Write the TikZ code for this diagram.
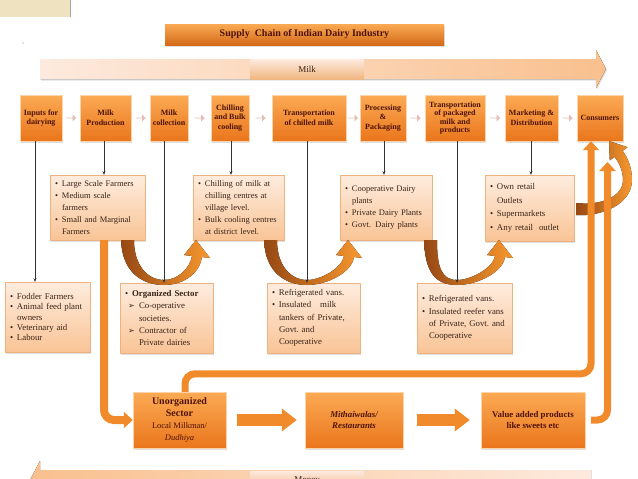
\documentclass[tikz,border=0pt]{standalone}
\usepackage{fontspec}
\setmainfont{Liberation Serif}
\newfontfamily\symfont{DejaVu Sans}
\definecolor{dorange}{RGB}{234,118,28}
\definecolor{lorange}{RGB}{251,170,84}
\definecolor{dmaroon}{RGB}{78,18,8}
\definecolor{peachtop}{RGB}{254,236,222}
\definecolor{peachbot}{RGB}{249,196,150}
\definecolor{peachedge}{RGB}{238,178,128}
\definecolor{brownarc}{RGB}{150,72,20}
\definecolor{orangearc}{RGB}{248,152,46}
\definecolor{fatorange}{RGB}{240,138,42}
\definecolor{chevgray}{RGB}{228,190,182}
\definecolor{milklight}{RGB}{253,234,222}
\definecolor{milkdark}{RGB}{249,192,142}
\definecolor{textdark}{RGB}{56,34,22}
\definecolor{tanbox}{RGB}{238,226,192}
\usepackage{tikz}
\usetikzlibrary{arrows.meta,positioning,shapes.arrows,shadows,calc}
\newcommand{\bul}{\makebox[7pt][l]{\textbullet}}
\newcommand{\ind}{\hspace*{7pt}}
\newcommand{\chevr}{\makebox[11pt][l]{\symfont\fontsize{8}{8}\selectfont ➢}}
% U-shaped ribbon arrow: tail x, bottom x, tip x
\newcommand{\ucurve}[3]{%
  \fill[left color=brownarc,right color=orangearc]
    (#1,240) .. controls ({#1+1},272) and ({#2-22},285) .. (#2,285)
    .. controls ({#2+21},285) and ({#3+5},272) .. ({#3+7},257)
    -- ({#3+15},258) -- ({#3+1},240) -- ({#3-11},255) -- ({#3-3},256)
    .. controls ({#3-5},268) and ({#2+14},280) .. (#2,280)
    .. controls ({#2-16},280) and ({#1+13},266) .. ({#1+13},240) -- cycle;}
\begin{document}
\begin{tikzpicture}[x=1pt,y=-1pt,
  shade/.style={drop shadow={opacity=0.25,shadow xshift=1pt,shadow yshift=-1.5pt}},
  topbox/.style={draw=lorange!50!white,top color=lorange,bottom color=dorange,minimum height=46pt,inner sep=1pt,align=center,font=\fontsize{8}{9.5}\selectfont\bfseries,text=dmaroon,shade},
  botbox/.style={topbox,minimum height=56pt},
  infobox/.style={draw=peachedge,top color=peachtop,bottom color=peachbot,inner xsep=5pt,inner ysep=2pt,align=left,font=\fontsize{8.5}{12}\selectfont,text=textdark,shade},
  lowbox/.style={infobox,minimum height=70pt,font=\fontsize{8.8}{12.2}\selectfont},
  titlebar/.style={top color=lorange,bottom color=dorange!90!black,minimum width=279pt,minimum height=21pt,font=\fontsize{10}{12}\selectfont\bfseries,text=dmaroon,shade},
  bandlabel/.style={top color=milklight,bottom color=milkdark!85!brown,minimum width=114pt,minimum height=20pt,inner sep=0pt,font=\fontsize{9}{10}\selectfont,text=textdark},
  chev/.style={single arrow,fill=chevgray,minimum height=10pt,minimum width=7pt,single arrow head extend=1.5pt,inner sep=0pt},
  conn/.style={draw=black!80,line width=0.6pt,-{Stealth[length=3.5pt,width=3pt]}},
  fat/.style={draw=fatorange,line width=8pt,rounded corners=10pt,-{Triangle[width=16pt,length=9pt]}},
  fatter/.style={draw=fatorange,line width=12pt,-{Triangle[width=22pt,length=15pt]}}]
  \useasboundingbox (0,0) rectangle (638,479);
  % corner tab and title
  \fill[tanbox] (0,0) rectangle (70,17);
  \draw[black!35,line width=1pt] (70,0) -- (70,17);
  \fill[black!45] (23,43) circle (0.6);
  \node[titlebar] (title) at (304.5,34.5) {Supply\ \ Chain of Indian Dairy Industry};
  % Milk band
  \fill[left color=milklight,right color=milkdark,shade] (40,59) -- (596,59) -- (596,50) -- (606,69) -- (596,88) -- (596,79) -- (40,79) -- cycle;
  \node[bandlabel] (milk) at (307,69) {Milk};
  % Money band
  \fill[left color=milkdark,right color=milklight] (591,470) -- (40,470) -- (40,461) -- (30,480) -- (40,499) -- (40,490) -- (591,490) -- cycle;
  \node[bandlabel] (money) at (307,481) {Money};
  % Stages
  \node[topbox,minimum width=42pt] (inp) at (41,118) {Inputs for\\dairying};
  \node[topbox,minimum width=51pt] (prod) at (105.5,118) {Milk\\Production};
  \node[topbox,minimum width=38pt] (coll) at (169,118) {Milk\\collection};
  \node[topbox,minimum width=38pt] (chill) at (230,118) {Chilling\\and Bulk\\cooling};
  \node[topbox,minimum width=74pt] (trch) at (309,118) {Transportation\\of chilled milk};
  \node[topbox,minimum width=46pt] (proc) at (383,118) {Processing\\\&\\Packaging};
  \node[topbox,minimum width=60pt,font=\fontsize{8}{8.3}\selectfont\bfseries] (trpk) at (455,118) {Transportation\\of packaged\\milk and\\products};
  \node[topbox,minimum width=53pt] (mkt) at (531.5,118) {Marketing \&\\Distribution};
  \node[topbox,minimum width=46pt] (cons) at (600,118) {Consumers};
  \foreach \a/\b in {inp/prod,prod/coll,coll/chill,chill/trch,trch/proc,proc/trpk,trpk/mkt,mkt/cons}
    \node[chev] (chev-\a) at ($(\a.east)!0.5!(\b.west)$) {};
  % Details
  \node[infobox,text width=85pt,minimum height=65pt] (farm) at (97.5,207.5) {\bul Large Scale Farmers\\\bul Medium scale\\\ind farmers\\\bul Small and Marginal\\\ind Farmers};
  \node[infobox,text width=81pt,minimum height=65pt] (chc) at (238.5,207.5) {\bul Chilling of milk at\\\ind chilling centres at\\\ind village level.\\\bul Bulk cooling centres\\\ind at district level.};
  \node[infobox,text width=82pt,minimum height=65pt] (plant) at (386,207.5) {\bul Cooperative Dairy\\\ind plants\\\bul Private Dairy Plants\\\bul Govt. Dairy plants};
  \node[infobox,text width=79pt,minimum height=66pt,font=\fontsize{8.8}{13.5}\selectfont] (retail) at (529.5,208) {\bul Own retail\\\ind Outlets\\\bul Supermarkets\\\bul Any retail\ \ outlet};
  \node[lowbox,text width=75pt,font=\fontsize{8.8}{10.3}\selectfont] (fod) at (47.5,317) {\bul Fodder Farmers\\\bul Animal feed plant\\\ind owners\\\bul Veterinary aid\\\bul Labour};
  \node[lowbox,text width=83pt] (org) at (166.5,318) {\bul\textbf{Organized Sector}\\\hspace*{3pt}\chevr Co-operative\\\hspace*{14pt}societies.\\\hspace*{3pt}\chevr Contractor of\\\hspace*{14pt}Private dairies};
  \node[lowbox,text width=83pt] (vans1) at (313.5,318) {\bul Refrigerated vans.\\\bul Insulated\hspace{6pt} milk\\\ind tankers of Private,\\\ind Govt.\ and\\\ind Cooperative};
  \node[lowbox,text width=85pt] (vans2) at (464.5,318) {\bul Refrigerated vans.\\\bul Insulated reefer vans\\\ind of Private, Govt.\ and\\\ind Cooperative};
  % Unorganized chain
  \node[botbox,minimum width=93pt,font=\fontsize{8.5}{12}\selectfont] (unorg) at (179.5,420) {{\fontsize{10}{12}\selectfont\bfseries Unorganized}\\{\fontsize{10}{12}\selectfont\bfseries Sector}\\Local Milkman/\\\textit{Dudhiya}};
  \node[botbox,minimum width=98pt,font=\fontsize{8.8}{10.5}\selectfont\bfseries\itshape] (mith) at (354,420) {Mithaiwalas/\\Restaurants};
  \node[botbox,minimum width=104pt,font=\fontsize{8.8}{10.5}\selectfont\bfseries] (val) at (533,420) {Value added products\\like sweets etc};
  % Ribbon arrows
  \ucurve{121}{164}{195}
  \ucurve{264}{307}{347}
  \ucurve{424}{457}{498}
  \fill[left color=brownarc,right color=orangearc]
    (576,215) .. controls (600,217) and (632,205) .. (632,180)
    .. controls (632,168) and (628,158) .. (622.6,150.8) -- (627.4,147.2) -- (609,141)
    -- (609.8,160.4) -- (614.6,156.8) .. controls (620,164) and (623,172) .. (623,180)
    .. controls (623,197) and (600,206) .. (576,203) -- cycle;
  % Thin links
  \foreach \s/\t/\dx in {inp/fod/-6,prod/farm/-1.5,coll/org/-5,chill/chc/1,trch/vans1/-2,proc/plant/1,trpk/vans2/2,mkt/retail/-0.5}
    \draw[conn] ([xshift=\dx pt]\s.south) coordinate (c-\s) -- (c-\s |- \t.north);
  % Thick links
  \draw[fat] ([xshift=6.5pt]farm.south) |- (unorg.west);
  \draw[fat,line width=7pt] ([xshift=5.5pt]unorg.north) -- ++(0,-18) -| ([xshift=-9pt]cons.south);
  \coordinate (consin) at (607.5,162);
  \draw[fat,line width=7pt] ([xshift=6pt]val.east) -| (consin);
  \draw[fatter,shorten <=11pt,shorten >=8pt] (unorg.east) -- (mith.west);
  \draw[fatter,shorten <=14pt,shorten >=11pt] (mith.east) -- (val.west);
\end{tikzpicture}
\end{document}
